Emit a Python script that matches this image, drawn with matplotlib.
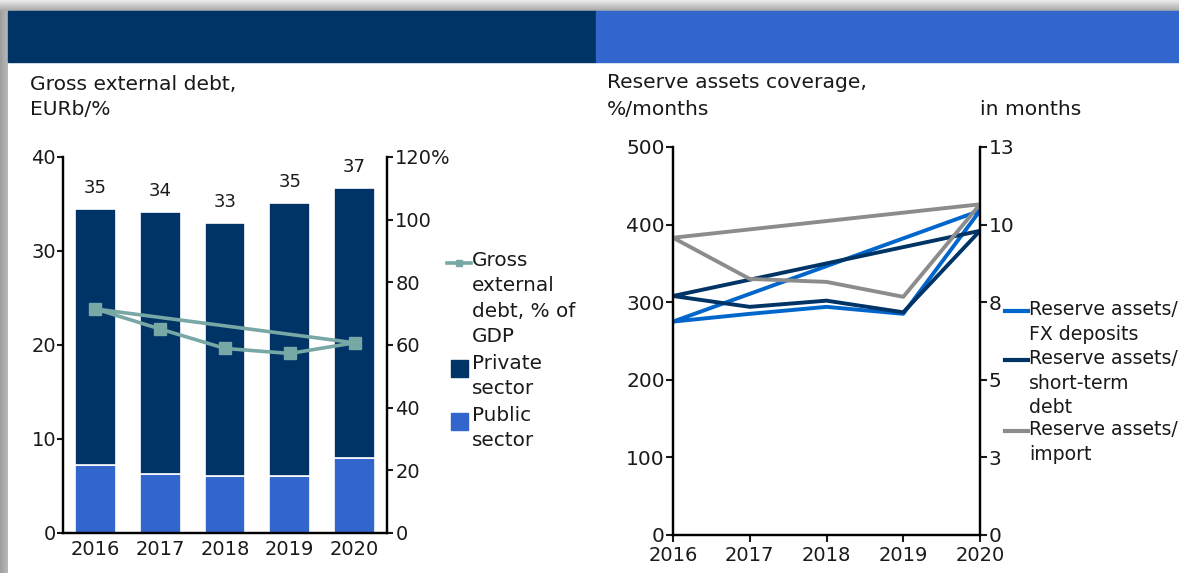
import matplotlib
matplotlib.use("Agg")
import matplotlib.pyplot as plt
from matplotlib.patches import Rectangle
from matplotlib.lines import Line2D
import numpy as np

# ---------------------------------------------------------------
# data
years = ["2016", "2017", "2018", "2019", "2020"]
public_sector = [7.2, 6.3, 6.1, 6.1, 8.0]        # EURb
private_sector = [27.3, 27.8, 26.9, 29.0, 28.7]  # EURb
total_labels = ["35", "34", "33", "35", "37"]
debt_pct_gdp = [71.5, 65.1, 58.9, 57.3, 60.7]    # % of GDP

fx_deposits = [275, 285, 294, 285, 418]          # %
short_term_debt = [308, 294, 302, 287, 392]      # %
import_months = [9.96, 8.58, 8.48, 7.98, 11.08]  # months

left_ticks = [0, 10, 20, 30, 40]
pct_ticks = [0, 20, 40, 60, 80, 100, 120]
pct_labels = ["0", "20", "40", "60", "80", "100", "120%"]
cov_ticks = [0, 100, 200, 300, 400, 500]
month_ticks = [0, 2.6, 5.2, 7.8, 10.4, 13]
month_labels = ["0", "3", "5", "8", "10", "13"]

# ---------------------------------------------------------------
# style
NAVY = "#003366"
BLUE = "#3366CC"
GREEN = "#78A8A6"
FX_BLUE = "#0066CC"
GREY = "#8C8C8C"
TXT = "#1a1a1a"

W, H = 1179, 573
plt.rcParams["font.family"] = "DejaVu Sans"
plt.rcParams["text.color"] = TXT


def fx(x):
    return x / W


def fy(y):
    return 1 - y / H


def axes_px(fig, left, top, right, bottom):
    return fig.add_axes([fx(left), fy(bottom), (right - left) / W, (bottom - top) / H])


fig = plt.figure(figsize=(W / 100, H / 100), dpi=100)
fig.patch.set_facecolor("white")

# frame / header
top_band = fig.add_axes([0, fy(11), 1, 11 / H])
top_band.imshow(np.linspace(0.92, 0.66, 20).reshape(-1, 1), cmap="gray",
                vmin=0, vmax=1, aspect="auto")
top_band.axis("off")
side_band = fig.add_axes([0, 0, 8 / W, fy(11)])
side_band.imshow(np.linspace(0.62, 0.72, 8).reshape(1, -1), cmap="gray",
                 vmin=0, vmax=1, aspect="auto")
side_band.axis("off")
fig.patches.append(Rectangle((fx(8), fy(62)), fx(596) - fx(8), 51 / H,
                             transform=fig.transFigure, color=NAVY))
fig.patches.append(Rectangle((fx(596), fy(62)), 1 - fx(596), 51 / H,
                             transform=fig.transFigure, color=BLUE))

# titles
fig.text(fx(30), fy(85), "Gross external debt,", fontsize=14.6, va="center")
fig.text(fx(30), fy(110), "EURb/%", fontsize=14.6, va="center")
fig.text(fx(607), fy(83), "Reserve assets coverage,", fontsize=14.6, va="center")
fig.text(fx(607), fy(110), "%/months", fontsize=14.6, va="center")
fig.text(fx(980), fy(110), "in months", fontsize=14.6, va="center")

x = np.arange(len(years))

# ---------------------------------------------------------------
# left chart: gross external debt
ax = axes_px(fig, 63, 157, 387, 533)
ax.bar(x, public_sector, 0.63, color=BLUE, edgecolor="white", linewidth=1.2)
ax.bar(x, private_sector, 0.63, bottom=public_sector, color=NAVY,
       edgecolor="white", linewidth=1.2)
totals = np.add(public_sector, private_sector)
for i, lab in enumerate(total_labels):
    ax.annotate(lab, (x[i], totals[i]), xytext=(0, 21), textcoords="offset pixels",
                ha="center", va="center", fontsize=13)
ax.set_xlim(-0.5, 4.5)
ax.set_ylim(0, 40)
ax.set_yticks(left_ticks)
ax.set_xticks(x)
ax.set_xticklabels(years)
ax.tick_params(axis="y", length=4, width=1.5, pad=1, labelsize=14, colors=TXT)
ax.tick_params(axis="x", length=0, pad=5, labelsize=14, colors=TXT)

ax2 = ax.twinx()
ax2.plot(np.append(x, x[0]), np.append(debt_pct_gdp, debt_pct_gdp[0]),
         color=GREEN, lw=2.6, marker="s", ms=8, markevery=list(range(len(x))))
ax2.set_ylim(0, 120)
ax2.set_yticks(pct_ticks)
ax2.set_yticklabels(pct_labels)
ax2.tick_params(axis="y", length=4, width=1.5, pad=2, labelsize=14, colors=TXT)

for a in (ax, ax2):
    a.spines["top"].set_visible(False)
    for s in ("left", "right", "bottom"):
        a.spines[s].set_linewidth(1.6)
        a.spines[s].set_color("black")

# left legend
fig.add_artist(Line2D([fx(447), fx(471)], [fy(263), fy(263)], color=GREEN, lw=2.6,
                      transform=fig.transFigure))
fig.add_artist(Line2D([fx(459)], [fy(263)], color=GREEN, marker="s", ms=4,
                      transform=fig.transFigure))
fig.text(fx(472), fy(251), "Gross\nexternal\ndebt, % of\nGDP", fontsize=14.4,
         va="top", linespacing=1.42)
fig.patches.append(Rectangle((fx(451), fy(377)), 17 / W, 17 / H,
                             transform=fig.transFigure, color=NAVY))
fig.text(fx(472), fy(354), "Private\nsector", fontsize=14.4, va="top", linespacing=1.42)
fig.patches.append(Rectangle((fx(451), fy(430)), 17 / W, 17 / H,
                             transform=fig.transFigure, color=BLUE))
fig.text(fx(472), fy(406), "Public\nsector", fontsize=14.4, va="top", linespacing=1.42)

# ---------------------------------------------------------------
# right chart: reserve assets coverage
bx = axes_px(fig, 673, 147, 980, 535)
bx.plot(np.append(x, x[0]), np.append(fx_deposits, fx_deposits[0]), color=FX_BLUE, lw=2.8)
bx.plot(np.append(x, x[0]), np.append(short_term_debt, short_term_debt[0]), color=NAVY, lw=2.8)
bx.set_xlim(0, 4)
bx.set_ylim(0, 500)
bx.set_yticks(cov_ticks)
bx.set_xticks(x)
bx.set_xticklabels(years)
bx.tick_params(axis="y", length=5, width=1.5, pad=1, labelsize=14.5, colors=TXT)
bx.tick_params(axis="x", length=5, width=1.5, pad=3, labelsize=14, colors=TXT)

bx2 = bx.twinx()
bx2.plot(np.append(x, x[0]), np.append(import_months, import_months[0]), color=GREY, lw=2.8)
bx2.set_ylim(0, 13)
bx2.set_yticks(month_ticks)
bx2.set_yticklabels(month_labels)
bx2.tick_params(axis="y", length=5, width=1.5, pad=1, labelsize=14.5, colors=TXT)

for a in (bx, bx2):
    a.spines["top"].set_visible(False)
    for s in ("left", "right", "bottom"):
        a.spines[s].set_linewidth(1.6)
        a.spines[s].set_color("black")

# right legend
legend_rows = [
    (FX_BLUE, 311, "Reserve assets/\nFX deposits"),
    (NAVY, 360, "Reserve assets/\nshort-term\ndebt"),
    (GREY, 431, "Reserve assets/\nimport"),
]
for col, ypx, lab in legend_rows:
    fig.add_artist(Line2D([fx(1005), fx(1028)], [fy(ypx), fy(ypx)], color=col, lw=3,
                          transform=fig.transFigure))
    fig.text(fx(1029), fy(ypx - 11), lab, fontsize=13.6, va="top", linespacing=1.38)

fig.savefig("out.png", dpi=100)
